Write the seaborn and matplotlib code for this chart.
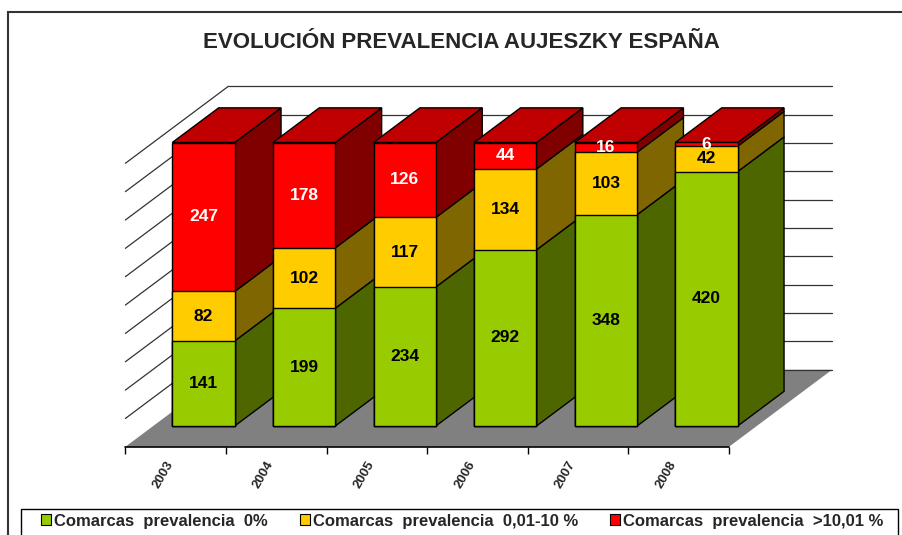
import numpy as np
import pandas as pd
import matplotlib
matplotlib.use("Agg")
import matplotlib.pyplot as plt
import seaborn as sns
from matplotlib.patches import Polygon, Patch, Rectangle

# datos (número de comarcas por año)
years = ['2003', '2004', '2005', '2006', '2007', '2008']
prev_0 = [141, 199, 234, 292, 348, 420]
prev_0_10 = [82, 102, 117, 134, 103, 42]
prev_10 = [247, 178, 126, 44, 16, 6]

series = ['Comarcas  prevalencia  0%',
          'Comarcas  prevalencia  0,01-10 %',
          'Comarcas  prevalencia  >10,01 %']
front_cols = ['#99CC00', '#FFCC00', '#FF0000']
side_cols = ['#4D6600', '#806600', '#800000']
top_col = '#C00000'
label_cols = ['black', 'black', 'white']

sns.set_theme(style='white')
plt.rcParams['font.family'] = ['Liberation Sans', 'DejaVu Sans']

# 100% apilado, como en Excel
counts = np.array([prev_0, prev_0_10, prev_10], dtype=float)
pct = counts / counts.sum(axis=0) * 100
cum = np.cumsum(pct, axis=0)
df = pd.DataFrame({'year': years, 'c0': cum[0], 'c1': cum[1], 'c2': cum[2]})

# geometría de la falsa perspectiva 3D
px_x, px_y = 100.6, 2.835          # pixeles por categoría / por %
D = np.array([1.024, 27.16])        # vector de profundidad completo
t0, t1 = 0.27, 0.72                 # profundidad de las barras
o = -t0 * D                         # plano frontal respecto a la cara de las barras
d = (t1 - t0) * D                   # profundidad de cada barra
xlim = (-1.1, 6.6)
ylim = (o[1], 122)

W, H = 903, 535
left_px = 203.5 + xlim[0] * px_x
bot_px = 426 - ylim[0] * px_y
top_px = 426 - ylim[1] * px_y
fig = plt.figure(figsize=(W / 100, H / 100), dpi=100)
ax = fig.add_axes([left_px / W, (H - bot_px) / H,
                   (xlim[1] - xlim[0]) * px_x / W, (bot_px - top_px) / H])
ax.set_facecolor('none')

# caras frontales con seaborn (superposición de acumulados)
bar_sets = {}
for k, col in [(2, 'c2'), (1, 'c1'), (0, 'c0')]:
    n0 = len(ax.patches)
    sns.barplot(data=df, x='year', y=col, color=front_cols[k], width=0.62,
                saturation=1, edgecolor='black', linewidth=1, errorbar=None, ax=ax)
    bar_sets[k] = ax.patches[n0:]

x_left = -0.5 + o[0]
x_right = len(years) - 0.5 + o[0]

# suelo
ax.add_patch(Polygon([(x_left, o[1]), (x_right, o[1]),
                      (x_right + D[0], o[1] + D[1]), (x_left + D[0], o[1] + D[1])],
                     closed=True, facecolor='#808080', edgecolor='none', zorder=0.5))
ax.plot([x_left, x_right], [o[1], o[1]], color='black', lw=1.2, zorder=0.8, clip_on=False)

# líneas de división (pared trasera y lateral)
for p in range(0, 101, 10):
    ax.plot([x_left + D[0], x_right + D[0]], [o[1] + D[1] + p] * 2,
            color='#333333', lw=0.9, zorder=1)
    if p > 0:
        ax.plot([x_left, x_left + D[0]], [o[1] + p, o[1] + D[1] + p],
                color='#333333', lw=0.9, zorder=1)

# caras laterales, tapa y etiquetas
bottoms = np.vstack([np.zeros(len(years)), cum[:2]])
for i in range(len(years)):
    for k in range(3):
        p = bar_sets[k][i]
        p.set_zorder(3 + 2 * i + 0.1 * (2 - k))
        x0, w = p.get_x(), p.get_width()
        xr = x0 + w
        yb, yt = bottoms[k][i], cum[k][i]
        ax.add_patch(Polygon([(xr, yb), (xr + d[0], yb + d[1]),
                              (xr + d[0], yt + d[1]), (xr, yt)], closed=True,
                             facecolor=side_cols[k], edgecolor='black', lw=1,
                             zorder=2 + 2 * i + 0.1 * k))
        if k == 2:
            ax.add_patch(Polygon([(x0, yt), (xr, yt), (xr + d[0], yt + d[1]),
                                  (x0 + d[0], yt + d[1])], closed=True,
                                 facecolor=top_col, edgecolor='black', lw=1,
                                 zorder=2 + 2 * i + 0.5))
        ax.text(x0 + w / 2, (yb + yt) / 2, str(int(counts[k][i])),
                ha='center', va='center', fontsize=12.5, fontweight='bold',
                color=label_cols[k], zorder=20)

# ejes
ax.set_xlim(xlim)
ax.set_ylim(ylim)
ax.set_xticks(np.arange(len(years)) + o[0], labels=years)
ax.set_xticks(np.arange(len(years) + 1) - 0.5 + o[0], minor=True)
ax.set_yticks([])
ax.set_xlabel('')
ax.set_ylabel('')
for s in ax.spines.values():
    s.set_visible(False)
ax.tick_params(axis='x', which='both', bottom=True, direction='out', color='black')
ax.tick_params(axis='x', which='major', length=0, pad=9, labelsize=9.5, labelrotation=60)
ax.tick_params(axis='x', which='minor', length=5, width=1)
for lab in ax.get_xticklabels():
    lab.set_ha('right')
    lab.set_fontweight('bold')

# título
fig.text(0.5105, 0.921, 'EVOLUCIÓN PREVALENCIA AUJESZKY ESPAÑA',
         ha='center', va='center', fontsize=16, fontweight='bold')

# leyenda
handles = [Patch(facecolor=c, edgecolor='black', lw=0.8) for c in front_cols]
fig.legend(handles, series, loc='center', bbox_to_anchor=(0.512, 0.026), ncol=3,
           frameon=False, handlelength=0.6, handleheight=0.6, handletextpad=0.2,
           columnspacing=1.9, prop={'weight': 'bold', 'size': 12})
fig.patches.append(Rectangle((21 / W, -0.05), 877 / W, (535 - 509) / H + 0.05,
                             transform=fig.transFigure, fill=False, ec='black', lw=1))
fig.patches.append(Rectangle((8 / W, -0.05), 2.0, 1 - 12 / H + 0.05,
                             transform=fig.transFigure, fill=False, ec='#333333', lw=1.5))

fig.savefig('out.png', dpi=100, facecolor='white')
